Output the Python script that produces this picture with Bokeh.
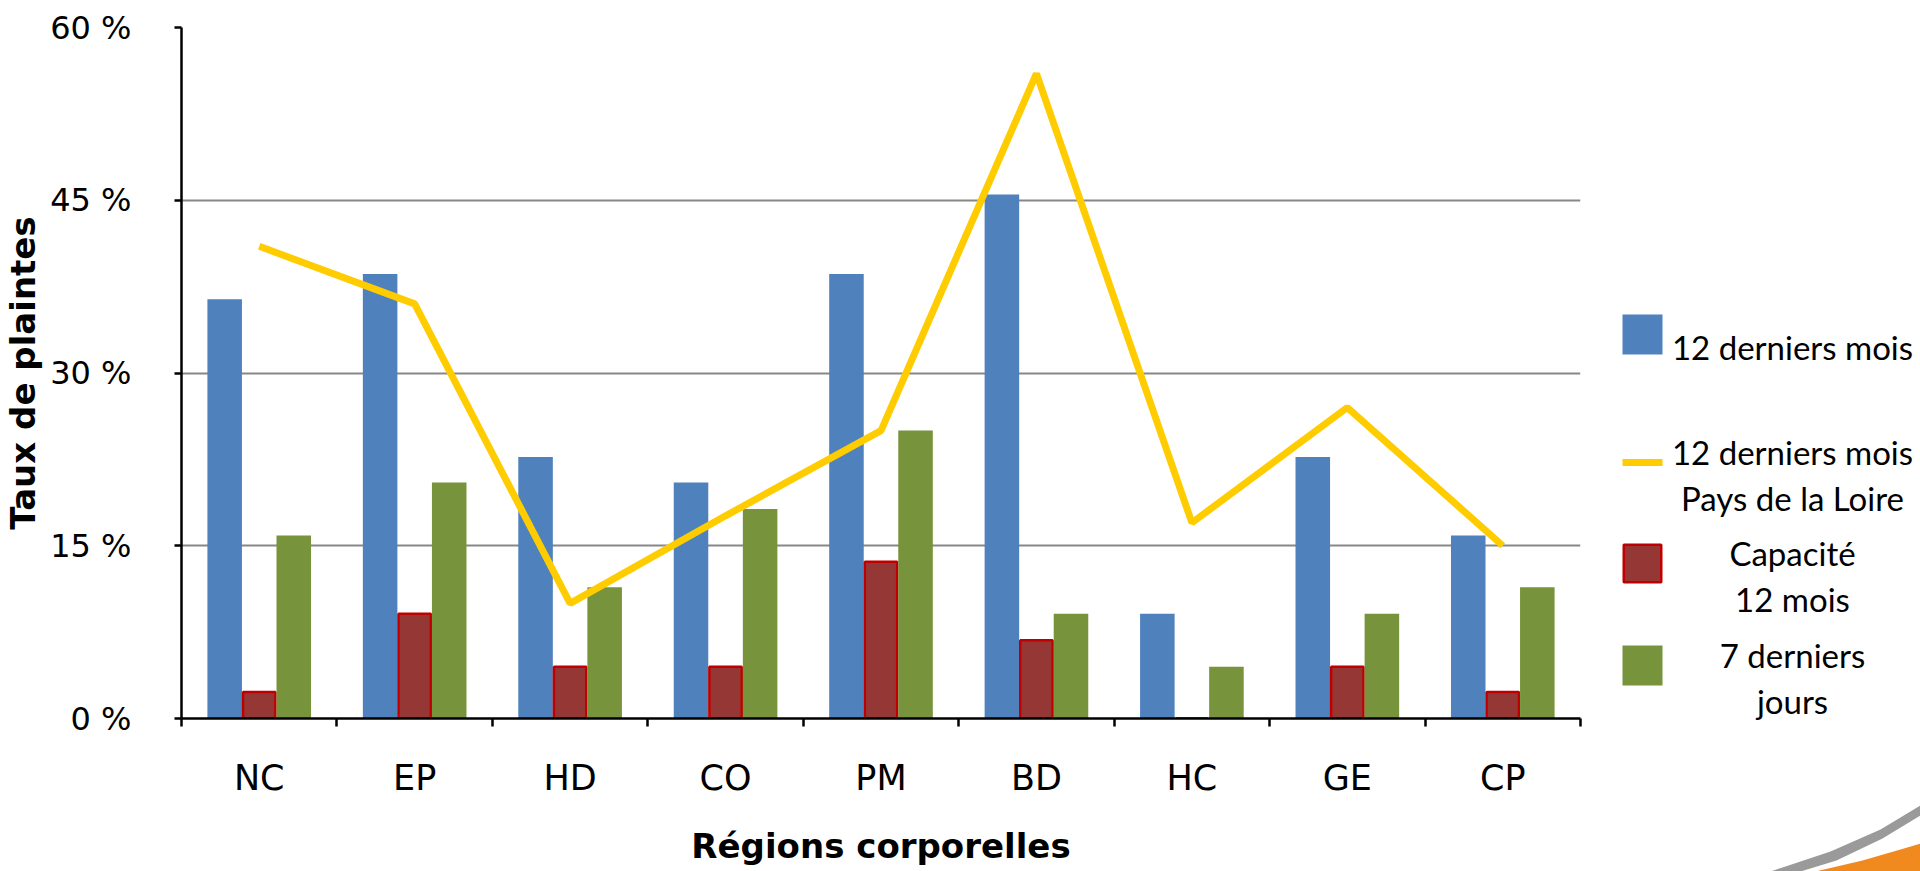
from bokeh.plotting import figure
from bokeh.layouts import row
from bokeh.models import (Range1d, LinearAxis, FixedTicker, PrintfTickFormatter, ColumnDataSource)
from bokeh.core.properties import value
from bokeh.transform import dodge
from bokeh.embed import file_html
from bokeh.resources import INLINE

# ---------------- data ----------------
categories = ["NC", "EP", "HD", "CO", "PM", "BD", "HC", "GE", "CP"]
derniers_12_mois = [36.4, 38.6, 22.7, 20.5, 38.6, 45.5, 9.1, 22.7, 15.9]
capacite_12_mois = [2.3, 9.1, 4.5, 4.5, 13.6, 6.8, 0.0, 4.5, 2.3]
derniers_7_jours = [15.9, 20.5, 11.4, 18.2, 25.0, 9.1, 4.5, 9.1, 11.4]
pays_loire_12_mois = [41.0, 36.0, 10.0, 17.6, 25.0, 56.0, 17.0, 27.0, 15.0]
y_ticks = [0, 15, 30, 45, 60]

y_title = "Taux de plaintes"
x_title = "Régions corporelles"
legend_labels = [["12 derniers mois"],
                 ["12 derniers mois", "Pays de la Loire"],
                 ["Capacité", "12 mois"],
                 ["7 derniers", "jours"]]

# ---------------- styling ----------------
H = 871
MAIN_W, LEG_W = 1600, 320
FL, FR, FT, FB = 180, 1580, 27, 718   # frame edges of the main chart, canvas pixels

BLUE, RED, RED_LINE, GREEN, YELLOW = "#4F81BD", "#953735", "#C00000", "#77933C", "#FFCC00"
TICK_FONT = "DejaVu Sans"
LEG_FONT = "Lato"

n = len(categories)
centers = [i + 0.5 for i in range(n)]          # category slots on a 0..n scale
edges = list(range(n + 1))

p = figure(width=MAIN_W, height=H,
           x_range=Range1d(0, n), y_range=Range1d(0, 60),
           x_axis_location=None, y_axis_location="left",
           output_backend="svg", toolbar_location=None,
           min_border_left=FL, min_border_right=MAIN_W - FR,
           min_border_top=FT, min_border_bottom=H - FB)
p.frame_align = False
p.outline_line_color = None
p.background_fill_color = "white"
p.border_fill_color = "white"
p.xgrid.visible = False
p.ygrid.grid_line_color = "#878787"
p.ygrid.grid_line_width = 2
p.ygrid.ticker = FixedTicker(ticks=y_ticks)

# y axis
ya = p.yaxis[0]
ya.ticker = FixedTicker(ticks=y_ticks)
ya.formatter = PrintfTickFormatter(format="%d %%")
ya.axis_line_color = "black"
ya.axis_line_width = 2.5
ya.major_tick_line_color = "black"
ya.major_tick_line_width = 2.5
ya.major_tick_in = 0
ya.major_tick_out = 7
ya.minor_tick_line_color = None
ya.major_label_standoff = 43
ya.major_label_text_font = TICK_FONT
ya.major_label_text_font_size = "32px"
ya.major_label_text_color = "black"
ya.axis_label = y_title
ya.axis_label_standoff = 4
ya.axis_label_text_font = TICK_FONT
ya.axis_label_text_font_size = "34px"
ya.axis_label_text_font_style = "bold"
ya.axis_label_text_color = "black"

# x axis line + ticks between categories
edge_axis = LinearAxis(ticker=FixedTicker(ticks=edges),
                       major_label_overrides={e: "" for e in edges},
                       major_label_text_font_size="0px", major_label_standoff=0,
                       major_tick_in=0, major_tick_out=8,
                       major_tick_line_width=2.5, major_tick_line_color="black",
                       minor_tick_line_color=None,
                       axis_line_width=2.5, axis_line_color="black")
p.add_layout(edge_axis, "below")

# category labels at slot centres + axis title
cat_axis = LinearAxis(ticker=FixedTicker(ticks=centers),
                      major_label_overrides={c: lab for c, lab in zip(centers, categories)},
                      axis_line_color=None, major_tick_line_color=None,
                      minor_tick_line_color=None,
                      major_label_standoff=25,
                      major_label_text_font=TICK_FONT,
                      major_label_text_font_size="35px",
                      major_label_text_color="black",
                      axis_label=x_title,
                      axis_label_standoff=25,
                      axis_label_text_font=TICK_FONT,
                      axis_label_text_font_size="34px",
                      axis_label_text_font_style="bold",
                      axis_label_text_color="black")
p.add_layout(cat_axis, "below")

# ---------------- bars ----------------
bw = 1 / 4.5
src = ColumnDataSource(dict(x=centers, cat=categories, a=derniers_12_mois,
                            b=capacite_12_mois, c=derniers_7_jours, line=pays_loire_12_mois))
p.vbar(x=dodge("x", -bw), top="a", width=bw, source=src, fill_color=BLUE, line_color=None)
p.vbar(x=dodge("x", 0.0), top="b", width=bw - 0.014, source=src,
       fill_color=RED, line_color=RED_LINE, line_width=2.5)
p.vbar(x=dodge("x", bw), top="c", width=bw, source=src, fill_color=GREEN, line_color=None)

# ---------------- line ----------------
p.line(x="x", y="line", source=src, line_color=YELLOW, line_width=7)

# ---------------- legend panel (own figure, canvas-pixel coordinates) ----------------
leg = figure(width=LEG_W, height=H, x_range=Range1d(MAIN_W, MAIN_W + LEG_W), y_range=Range1d(H, 0),
             x_axis_location=None, y_axis_location=None,
             output_backend="svg", toolbar_location=None, min_border=0)
leg.frame_align = False
leg.grid.visible = False
leg.outline_line_color = None
leg.background_fill_color = "white"
leg.border_fill_color = "white"

mk_l, mk_r = 1622, 1662
marker_mid = [334, 462, 563, 665]
leg.quad(left=[mk_l], right=[mk_r], top=[marker_mid[0] - 20], bottom=[marker_mid[0] + 20],
         fill_color=BLUE, line_color=None)
leg.quad(left=[mk_l], right=[mk_r], top=[marker_mid[1] - 3.5], bottom=[marker_mid[1] + 3.5],
         fill_color=YELLOW, line_color=None)
leg.quad(left=[mk_l + 1.25], right=[mk_r - 1.25], top=[marker_mid[2] - 18.75],
         bottom=[marker_mid[2] + 18.75], fill_color=RED, line_color=RED_LINE, line_width=2.5)
leg.quad(left=[mk_l], right=[mk_r], top=[marker_mid[3] - 20], bottom=[marker_mid[3] + 20],
         fill_color=GREEN, line_color=None)

tx, ty, tt = [], [], []
text_cx = 1792
for lines, mid in zip(legend_labels, marker_mid):
    if len(lines) == 1:
        tx.append(text_cx); ty.append(mid + 12); tt.append(lines[0])
    else:
        tx += [text_cx, text_cx]; ty += [mid - 11, mid + 35]; tt += lines
leg.text(x=tx, y=ty, text=tt, text_align="center", text_baseline="alphabetic",
         text_font=value(LEG_FONT), text_font_size=value("33px"), text_color="black")

# decorative swoosh of the slide background (bottom-right corner)
leg.patch(x=[1770, 1830, 1880, 1920, 1920, 1882, 1836, 1800],
          y=[871, 851, 829, 805, 815, 838, 860, 871],
          fill_color="#9A9A9A", line_color=None)
leg.patch(x=[1815, 1862, 1900, 1920, 1920], y=[871, 860, 849, 843, 871],
          fill_color="#F08A1F", line_color=None)

layout = row(p, leg, spacing=0)
open("out.html", "w").write(file_html(layout, INLINE))
